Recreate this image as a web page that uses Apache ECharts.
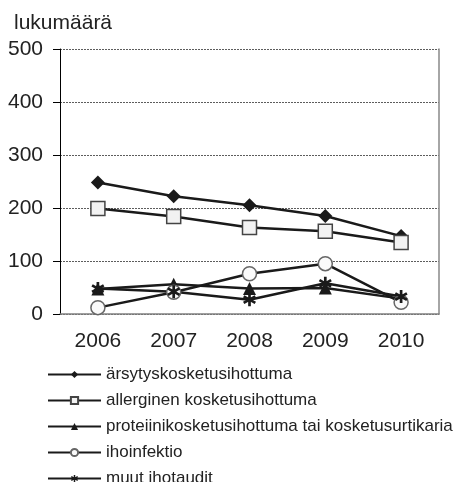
<!DOCTYPE html>
<html>
<head>
<meta charset="utf-8">
<script src="https://cdn.jsdelivr.net/npm/echarts@6/dist/echarts.min.js"></script>
<style>
  html, body { margin: 0; padding: 0; background: #fff; }
  #chart { width: 453px; height: 482px; }
</style>
</head>
<body>
<div id="chart"></div>
<script>
const years = ['2006', '2007', '2008', '2009', '2010']
const seriesNames = [
  'ärsytyskosketusihottuma',
  'allerginen kosketusihottuma',
  'proteiinikosketusihottuma tai kosketusurtikaria',
  'ihoinfektio',
  'muut ihotaudit'
]
const arsytys = [248, 222, 205, 185, 147]
const allerginen = [199, 184, 163, 156, 135]
const proteiini = [47, 56, 48, 49, 29]
const ihoinfektio = [12, 41, 76, 95, 22]
const muut = [48, 42, 27, 58, 33]

// asterisk marker made of three bars
const asterisk = 'path://M-1,-5L1,-5L1,5L-1,5Z' +
  'M4.83,1.63L3.83,3.37L-4.83,-1.63L-3.83,-3.37Z' +
  'M3.83,-3.37L4.83,-1.63L-3.83,3.37L-4.83,1.63Z'

const font = 'Liberation Sans'
const ink = '#1a1a1a'

const chart = echarts.init(document.getElementById('chart'))

const mkSeries = (name, data, symbol, size, fill, border) => ({
  name: name,
  type: 'line',
  data: data,
  symbol: symbol,
  symbolSize: size,
  lineStyle: { color: ink, width: 2.5 },
  itemStyle: { color: fill, borderColor: border, borderWidth: fill === ink ? 0 : 1.5 },
  emphasis: { disabled: true },
  animation: false
})

const option = {
  animation: false,
  title: {
    text: 'lukumäärä',
    left: 9,
    top: 8,
    textStyle: { fontFamily: font, fontSize: 21, fontWeight: 'normal', color: '#222' }
  },
  grid: { left: 60, right: 14, top: 49, bottom: 168 },
  legend: {
    orient: 'vertical',
    left: 47,
    top: 366,
    height: 200,
    padding: 0,
    itemWidth: 53,
    itemHeight: 9,
    itemGap: 9,
    data: seriesNames,
    textStyle: { fontFamily: font, fontSize: 17, color: '#222' }
  },
  xAxis: {
    type: 'category',
    data: years,
    axisLine: { lineStyle: { color: '#808080', width: 1.5 } },
    axisTick: { show: false },
    axisLabel: { fontFamily: font, fontSize: 21, color: '#222', margin: 17 }
  },
  yAxis: [
    {
      type: 'value',
      min: 0,
      max: 500,
      interval: 100,
      axisLine: { show: true, lineStyle: { color: '#000', width: 1 } },
      axisTick: { show: true, length: 7, lineStyle: { color: '#000' } },
      axisLabel: { fontFamily: font, fontSize: 21, color: '#222', margin: 17, padding: [7, 0, 0, 0] },
      splitLine: { show: true, lineStyle: { color: '#333', width: 0.8, type: [2, 1] } }
    },
    {
      type: 'value',
      position: 'right',
      min: 0,
      max: 500,
      interval: 100,
      axisLine: { show: true, lineStyle: { color: '#888', width: 1.5 } },
      axisTick: { show: false },
      axisLabel: { show: false },
      splitLine: { show: false }
    }
  ],
  series: [
    mkSeries(seriesNames[0], arsytys, 'diamond', 14, ink, ink),
    mkSeries(seriesNames[1], allerginen, 'rect', 14, '#f2f2f2', '#444'),
    mkSeries(seriesNames[2], proteiini, 'triangle', 13, ink, ink),
    mkSeries(seriesNames[3], ihoinfektio, 'circle', 14, '#fafafa', '#666'),
    mkSeries(seriesNames[4], muut, asterisk, 13, ink, ink)
  ]
}

chart.setOption(option)
</script>
</body>
</html>
